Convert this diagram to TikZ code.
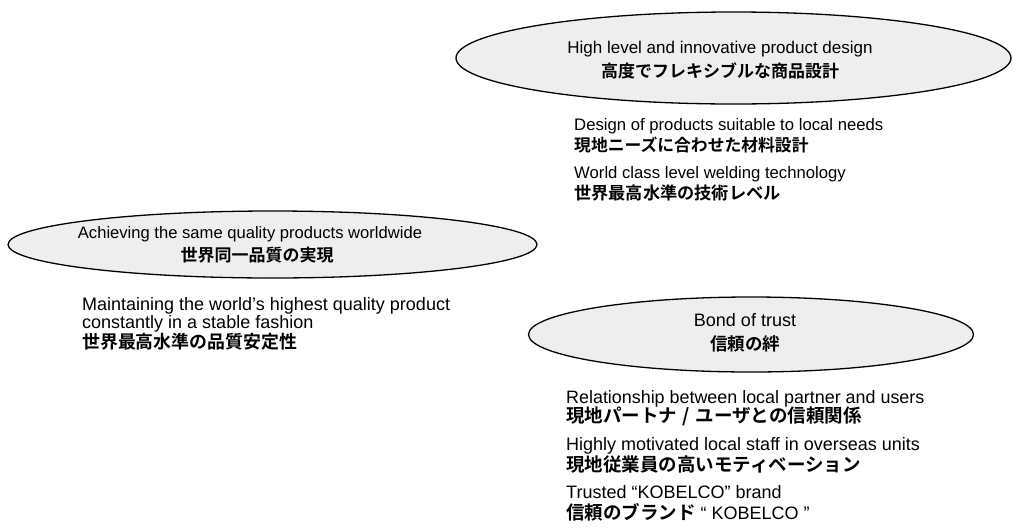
\documentclass[tikz,border=0pt]{standalone}
\usepackage{fontspec}
\setmainfont{Liberation Sans}
\newfontfamily\jp{Noto Sans CJK JP Bold}
\usetikzlibrary{shapes.geometric}
\definecolor{ellfill}{RGB}{238,238,238}
\tikzset{
  oval/.style={ellipse, draw=black, line width=1.3pt, fill=ellfill, inner sep=0pt},
  entxt/.style={inner sep=0pt, font=\fontsize{#1}{#1}\selectfont},
  jatxt/.style={inner sep=0pt, font=\jp\fontsize{#1}{#1}\selectfont},
}
\begin{document}
\begin{tikzpicture}[x=1pt,y=-1pt]
\useasboundingbox (0,0) rectangle (1013,528);
% ellipses
\node[oval, minimum width=555pt, minimum height=92pt] (E1) at (733.5,58) {};
\node[oval, minimum width=529pt, minimum height=67pt] (E2) at (272.5,244.5) {};
\node[oval, minimum width=445pt, minimum height=75pt] (E3) at (751,334.5) {};
% top ellipse
\node[entxt=17, anchor=base] (t1en) at (720,53) {High level and innovative product design};
\node[jatxt=17, anchor=base] (t1ja) at (720,77) {高度でフレキシブルな商品設計};
\node[entxt=16.7, anchor=base west] (s1a) at (574,130) {Design of products suitable to local needs};
\node[jatxt=16.8, anchor=base west] (s1aj) at (574,151) {現地ニーズに合わせた材料設計};
\node[entxt=16.7, anchor=base west] (s1b) at (574,178) {World class level welding technology};
\node[jatxt=17.2, anchor=base west] (s1bj) at (574,199) {世界最高水準の技術レベル};
% left ellipse
\node[entxt=16.6, anchor=base] (t2en) at (250,238) {Achieving the same quality products worldwide};
\node[jatxt=17, anchor=base] (t2ja) at (257,261) {世界同一品質の実現};
\node[entxt=18, anchor=base west] (s2a) at (82,310) {Maintaining the world’s highest quality product};
\node[entxt=18, anchor=base west] (s2b) at (82,328) {constantly in a stable fashion};
\node[jatxt=17.9, anchor=base west] (s2j) at (82,348) {世界最高水準の品質安定性};
% bond ellipse
\node[entxt=18, anchor=base] (t3en) at (745,326) {Bond of trust};
\node[jatxt=17.5, anchor=base] (t3ja) at (745,350) {信頼の絆};
\node[entxt=17.9, anchor=base west] (s3a) at (566,403) {Relationship between local partner and users};
\node[jatxt=18.5, anchor=base west] (s3aj) at (566,422) {現地パートナ\hbox to 1em{\hss/\hss}ユーザとの信頼関係};
\node[entxt=18, anchor=base west] (s3b) at (566,450) {Highly motivated local staff in overseas units};
\node[jatxt=18.5, anchor=base west] (s3bj) at (566,471) {現地従業員の高いモティベーション};
\node[entxt=18, anchor=base west] (s3c) at (566,498) {Trusted “KOBELCO” brand};
\node[jatxt=18.5, anchor=base west] (s3cj) at (566,519) {信頼のブランド{\rmfamily\fontsize{18}{18}\selectfont\ “ KOBELCO ”}};
\end{tikzpicture}
\end{document}
